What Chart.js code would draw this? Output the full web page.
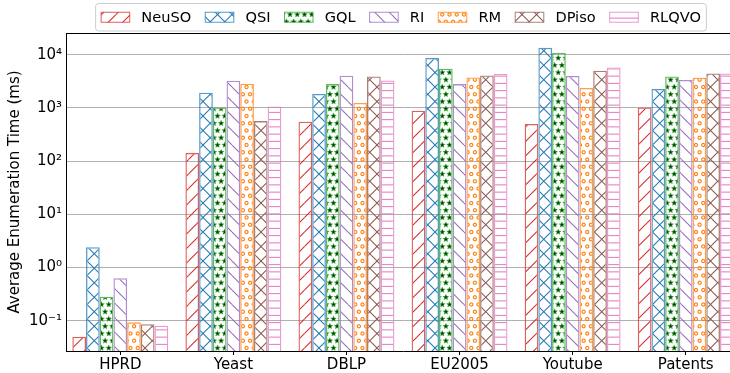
<!DOCTYPE html>
<html>
<head>
<meta charset="utf-8">
<script src="https://cdn.jsdelivr.net/npm/chart.js@4.4.1/dist/chart.umd.min.js"></script>
<style>
  html, body { margin: 0; padding: 0; background: #fff; overflow: hidden; width: 730px; height: 373px; }
  canvas { display: block; }
</style>
</head>
<body>
<canvas id="chart" width="741" height="373"></canvas>
<script>
// Datasets and matching methods
const categories = ['HPRD', 'Yeast', 'DBLP', 'EU2005', 'Youtube', 'Patents'];
const methods = ['NeuSO', 'QSI', 'GQL', 'RI', 'RM', 'DPiso', 'RLQVO'];

// Average enumeration time (ms) per dataset
const neuso = [0.05, 143, 548, 883, 497, 1019];
const qsi   = [2.4, 1930, 1820, 8670, 13550, 2265];
const gql   = [0.283, 1019, 2805, 5455, 10900, 3910];
const ri    = [0.628, 3245, 4030, 2805, 3975, 3340];
const rm    = [0.093, 2845, 1233, 3740, 2360, 3690];
const dpiso = [0.0855, 565, 3910, 4075, 5000, 4450];
const rlqvo = [0.0806, 1064, 3290, 4335, 5770, 4450];

const yTickValues = [0.1, 1, 10, 100, 1000, 10000];
const yTickLabels = ['10\u207B\u00B9', '10\u2070', '10\u00B9', '10\u00B2', '10\u00B3', '10\u2074'];

const seriesValues = [neuso, qsi, gql, ri, rm, dpiso, rlqvo];

// Styling
const FONT = "'DejaVu Sans', sans-serif";
const palette = ['#d62728', '#1f77b4', '#2ca02c', '#9467bd', '#ff7f0e', '#8c564b', '#e377c2'];
const hatchKinds = ['/', 'x', '*', '\\', 'o', 'x', '-'];

function fade(hex, a) {
  const n = parseInt(hex.slice(1), 16);
  return `rgba(${(n >> 16) & 255},${(n >> 8) & 255},${n & 255},${a})`;
}

const ctx2d = document.getElementById('chart').getContext('2d');

// Hatch tiles are drawn at double size and scaled down to a 14.5px period
function makeHatch(kind, color) {
  const S = 29;
  const tile = document.createElement('canvas');
  tile.width = S; tile.height = S;
  const g = tile.getContext('2d');
  g.strokeStyle = color;
  g.lineWidth = 2;
  const line = (x1, y1, x2, y2) => { g.beginPath(); g.moveTo(x1, y1); g.lineTo(x2, y2); g.stroke(); };
  if (kind === '/' || kind === 'x') for (let k = -1; k <= 1; k++) line(k * S, S, k * S + S, 0);
  if (kind === '\\' || kind === 'x') for (let k = -1; k <= 1; k++) line(k * S, 0, k * S + S, S);
  if (kind === '-') { line(0, S / 4, S, S / 4); line(0, 3 * S / 4, S, 3 * S / 4); }
  if (kind === 'o' || kind === '*') {
    const s = S / 2;
    const centres = [];
    for (const [x, y] of [[0, 0], [s, 0], [s / 2, s], [3 * s / 2, s]])
      for (const dx of [-S, 0, S]) for (const dy of [-S, 0, S]) centres.push([x + dx, y + dy]);
    for (const [x, y] of centres) {
      if (kind === 'o') {
        g.beginPath(); g.arc(x, y, 3.2, 0, Math.PI * 2);
        g.lineWidth = 2.2; g.stroke();
      } else {
        g.beginPath();
        for (let i = 0; i < 10; i++) {
          const r = i % 2 === 0 ? 5 : 2.5;
          const a = -Math.PI / 2 + i * Math.PI / 5;
          const px = x + r * Math.cos(a), py = y + r * Math.sin(a);
          if (i === 0) g.moveTo(px, py); else g.lineTo(px, py);
        }
        g.closePath();
        g.fillStyle = '#0b2a0b'; g.fill();
        g.lineWidth = 1.6; g.stroke();
      }
    }
  }
  const p = ctx2d.createPattern(tile, 'repeat');
  p.setTransform(new DOMMatrix().scaleSelf(0.5, 0.5));
  return p;
}

// Legend drawn as a framed row of hatched swatches above the plot
const hatchLegend = {
  id: 'hatchLegend',
  afterDraw(chart) {
    const ctx = chart.ctx, area = chart.chartArea;
    const fs = 14.6, handleW = 28.6, handleH = 10, textPad = 11.6, colGap = 14, padX = 5.5;
    ctx.save();
    ctx.font = `${fs}px ${FONT}`;
    const items = chart.data.datasets.map(ds => ({ ds, w: ctx.measureText(ds.label).width }));
    const content = items.reduce((a, it) => a + handleW + textPad + it.w, 0) + colGap * (items.length - 1);
    const boxW = content + 2 * padX;
    const cx = (area.left + area.right) / 2 - 2;
    const x0 = cx - boxW / 2, y0 = 3.5, boxH = 27.5;
    ctx.beginPath();
    ctx.roundRect(x0, y0, boxW, boxH, 3);
    ctx.fillStyle = 'rgba(255,255,255,0.8)';
    ctx.fill();
    ctx.strokeStyle = '#cccccc';
    ctx.lineWidth = 1;
    ctx.stroke();
    let x = x0 + padX;
    const cy = y0 + boxH / 2;
    for (const it of items) {
      ctx.fillStyle = it.ds.backgroundColor;
      ctx.fillRect(x, cy - handleH / 2, handleW, handleH);
      ctx.strokeStyle = it.ds.borderColor;
      ctx.lineWidth = 1;
      ctx.strokeRect(x, cy - handleH / 2, handleW, handleH);
      ctx.fillStyle = '#000';
      ctx.textBaseline = 'middle';
      ctx.textAlign = 'left';
      ctx.fillText(it.ds.label, x + handleW + textPad, cy + 0.5);
      x += handleW + textPad + it.w + colGap;
    }
    ctx.restore();
  }
};

// Top and right frame lines of the plot box
const frameLines = {
  id: 'frameLines',
  afterDatasetsDraw(chart) {
    const { ctx, chartArea: a } = chart;
    ctx.save();
    ctx.strokeStyle = '#000';
    ctx.lineWidth = 1;
    ctx.beginPath();
    ctx.moveTo(a.left, a.top + 0.5);
    ctx.lineTo(a.right, a.top + 0.5);
    ctx.moveTo(a.right - 0.5, a.top);
    ctx.lineTo(a.right - 0.5, a.bottom);
    ctx.stroke();
    ctx.restore();
  }
};

Chart.defaults.font.family = FONT;
Chart.defaults.color = '#000';

new Chart(ctx2d, {
  type: 'bar',
  data: {
    datasets: methods.map((name, i) => ({
      label: name,
      data: seriesValues[i].map((v, j) => ({ x: j, y: v })),
      backgroundColor: makeHatch(hatchKinds[i], palette[i]),
      borderColor: fade(palette[i], 0.75),
      borderWidth: 1.3,
      categoryPercentage: 0.848,
      barPercentage: 1.0
    }))
  },
  options: {
    responsive: false,
    animation: false,
    devicePixelRatio: 1,
    layout: { padding: { top: 33, right: 1, left: 0, bottom: 0 } },
    plugins: { legend: { display: false }, tooltip: { enabled: false } },
    scales: {
      x: {
        type: 'linear',
        min: -0.48,
        max: 5.48,
        offset: false,
        afterBuildTicks: s => { s.ticks = categories.map((_, i) => ({ value: i })); },
        afterFit: s => { s.height = 22; },
        ticks: {
          autoSkip: false,
          maxRotation: 0,
          padding: 1,
          color: '#000',
          font: { size: 15 },
          callback: v => categories[v]
        },
        grid: { offset: false, drawOnChartArea: false, drawTicks: true, tickLength: 4, tickColor: '#000', tickWidth: 1 },
        border: { color: '#000', width: 1 }
      },
      y: {
        type: 'logarithmic',
        min: 0.0269,
        max: 25600,
        afterBuildTicks: s => { s.ticks = yTickValues.map(v => ({ value: v })); },
        afterFit: s => { s.width = 66; },
        ticks: {
          padding: 4,
          color: '#000',
          font: { size: 15 },
          callback: v => yTickLabels[yTickValues.indexOf(v)]
        },
        grid: { color: '#b0b0b0', lineWidth: 1, drawTicks: false },
        border: { color: '#000', width: 1 },
        title: {
          display: true,
          text: 'Average Enumeration Time (ms)',
          color: '#000',
          font: { size: 15 },
          padding: { top: 6, bottom: 0 }
        }
      }
    }
  },
  plugins: [hatchLegend, frameLines]
});
</script>
</body>
</html>
